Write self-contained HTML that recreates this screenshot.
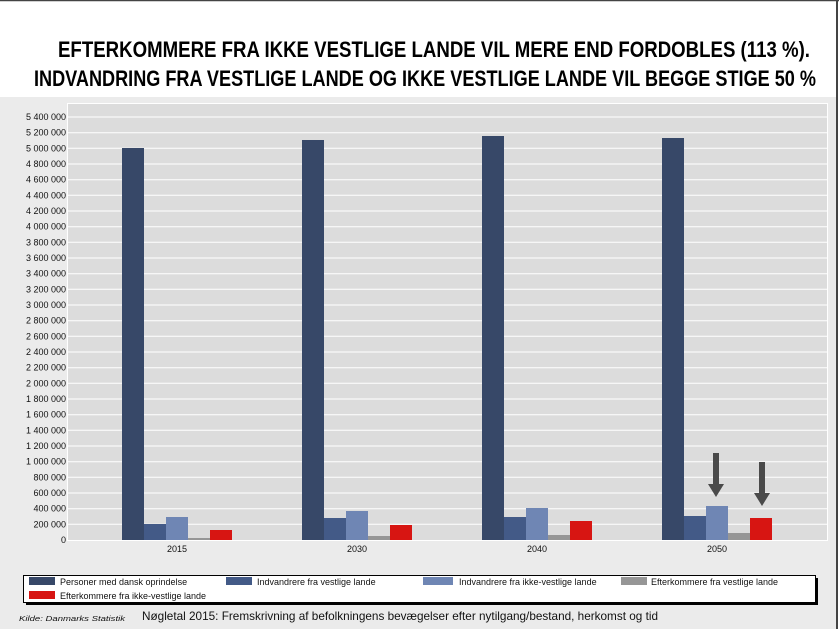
<!DOCTYPE html>
<html><head><meta charset="utf-8"><style>
html,body{margin:0;padding:0;background:#fff}
svg{display:block}
</style></head><body>
<svg width="839" height="629" viewBox="0 0 839 629" xmlns="http://www.w3.org/2000/svg" font-family="Liberation Sans, sans-serif">
<rect x="0" y="0" width="839" height="629" fill="#fff"/>
<rect x="0" y="97" width="836" height="532" fill="#ebebeb"/>
<line x1="0" y1="0.5" x2="839" y2="0.5" stroke="#444" stroke-width="1.5"/>
<line x1="837" y1="0" x2="837" y2="629" stroke="#444" stroke-width="2"/>
<text x="434" y="57" text-anchor="middle" font-family="Liberation Sans Narrow, Liberation Sans, sans-serif" font-weight="bold" font-size="22" textLength="752" lengthAdjust="spacingAndGlyphs">EFTERKOMMERE FRA IKKE VESTLIGE LANDE VIL MERE END FORDOBLES (113 %).</text>
<text x="425" y="86" text-anchor="middle" font-family="Liberation Sans Narrow, Liberation Sans, sans-serif" font-weight="bold" font-size="22" textLength="782" lengthAdjust="spacingAndGlyphs">INDVANDRING FRA VESTLIGE LANDE OG IKKE VESTLIGE LANDE VIL BEGGE STIGE 50 %</text>
<rect x="67.5" y="103.5" width="760" height="437" fill="#dcdcdc" stroke="#fff" stroke-width="1"/>
<g stroke="#fff" stroke-width="1">
<line x1="68" x2="827" y1="117" y2="117"/><line x1="68" x2="827" y1="132.7" y2="132.7"/><line x1="68" x2="827" y1="148.3" y2="148.3"/><line x1="68" x2="827" y1="164" y2="164"/><line x1="68" x2="827" y1="179.7" y2="179.7"/><line x1="68" x2="827" y1="195.3" y2="195.3"/><line x1="68" x2="827" y1="211" y2="211"/><line x1="68" x2="827" y1="226.7" y2="226.7"/><line x1="68" x2="827" y1="242.3" y2="242.3"/><line x1="68" x2="827" y1="258" y2="258"/><line x1="68" x2="827" y1="273.7" y2="273.7"/><line x1="68" x2="827" y1="289.3" y2="289.3"/><line x1="68" x2="827" y1="305" y2="305"/><line x1="68" x2="827" y1="320.7" y2="320.7"/><line x1="68" x2="827" y1="336.3" y2="336.3"/><line x1="68" x2="827" y1="352" y2="352"/><line x1="68" x2="827" y1="367.7" y2="367.7"/><line x1="68" x2="827" y1="383.3" y2="383.3"/><line x1="68" x2="827" y1="399" y2="399"/><line x1="68" x2="827" y1="414.7" y2="414.7"/><line x1="68" x2="827" y1="430.3" y2="430.3"/><line x1="68" x2="827" y1="446" y2="446"/><line x1="68" x2="827" y1="461.7" y2="461.7"/><line x1="68" x2="827" y1="477.3" y2="477.3"/><line x1="68" x2="827" y1="493" y2="493"/><line x1="68" x2="827" y1="508.7" y2="508.7"/><line x1="68" x2="827" y1="524.3" y2="524.3"/>
</g>
<g font-size="9" text-anchor="end" fill="#111">
<text x="66" y="120">5 400 000</text><text x="66" y="135.7">5 200 000</text><text x="66" y="151.3">5 000 000</text><text x="66" y="167">4 800 000</text><text x="66" y="182.7">4 600 000</text><text x="66" y="198.3">4 400 000</text><text x="66" y="214">4 200 000</text><text x="66" y="229.7">4 000 000</text><text x="66" y="245.3">3 800 000</text><text x="66" y="261">3 600 000</text><text x="66" y="276.7">3 400 000</text><text x="66" y="292.3">3 200 000</text><text x="66" y="308">3 000 000</text><text x="66" y="323.7">2 800 000</text><text x="66" y="339.3">2 600 000</text><text x="66" y="355">2 400 000</text><text x="66" y="370.7">2 200 000</text><text x="66" y="386.3">2 000 000</text><text x="66" y="402">1 800 000</text><text x="66" y="417.7">1 600 000</text><text x="66" y="433.3">1 400 000</text><text x="66" y="449">1 200 000</text><text x="66" y="464.7">1 000 000</text><text x="66" y="480.3">800 000</text><text x="66" y="496">600 000</text><text x="66" y="511.7">400 000</text><text x="66" y="527.3">200 000</text><text x="66" y="543">0</text>
</g>
<rect x="122" y="148" width="22" height="392" fill="#374868"/>
<rect x="144" y="524" width="22" height="16" fill="#435a87"/>
<rect x="166" y="517" width="22" height="23" fill="#6f86b4"/>
<rect x="188" y="538" width="22" height="2" fill="#969696"/>
<rect x="210" y="530" width="22" height="10" fill="#d71512"/>
<rect x="302" y="140" width="22" height="400" fill="#374868"/>
<rect x="324" y="518" width="22" height="22" fill="#435a87"/>
<rect x="346" y="511" width="22" height="29" fill="#6f86b4"/>
<rect x="368" y="536" width="22" height="4" fill="#969696"/>
<rect x="390" y="525" width="22" height="15" fill="#d71512"/>
<rect x="482" y="136" width="22" height="404" fill="#374868"/>
<rect x="504" y="517" width="22" height="23" fill="#435a87"/>
<rect x="526" y="508" width="22" height="32" fill="#6f86b4"/>
<rect x="548" y="535" width="22" height="5" fill="#969696"/>
<rect x="570" y="521" width="22" height="19" fill="#d71512"/>
<rect x="662" y="138" width="22" height="402" fill="#374868"/>
<rect x="684" y="516" width="22" height="24" fill="#435a87"/>
<rect x="706" y="506" width="22" height="34" fill="#6f86b4"/>
<rect x="728" y="533" width="22" height="7" fill="#969696"/>
<rect x="750" y="518" width="22" height="22" fill="#d71512"/>
<g font-size="9" text-anchor="middle" fill="#111">
<text x="177" y="552">2015</text><text x="357" y="552">2030</text><text x="537" y="552">2040</text><text x="717" y="552">2050</text>
</g>
<polygon points="713,453 719,453 719,484 724,484 716,497 708,484 713,484" fill="#4a4a4a"/>
<polygon points="759,462 765,462 765,493 770,493 762,506 754,493 759,493" fill="#4a4a4a"/>
<rect x="26" y="578" width="792" height="27" fill="#000"/>
<rect x="23.5" y="575.5" width="792" height="27" fill="#fff" stroke="#000" stroke-width="1"/>
<rect x="29" y="577" width="26" height="8" fill="#374868"/>
<rect x="29" y="591" width="26" height="8" fill="#d71512"/>
<rect x="226" y="577" width="26" height="8" fill="#435a87"/>
<rect x="423" y="577" width="30" height="8" fill="#6f86b4"/>
<rect x="621" y="577" width="26" height="8" fill="#969696"/>
<g font-size="9" fill="#111">
<text x="60" y="585">Personer med dansk oprindelse</text>
<text x="60" y="599">Efterkommere fra ikke-vestlige lande</text>
<text x="257" y="585">Indvandrere fra vestlige lande</text>
<text x="459" y="585">Indvandrere fra ikke-vestlige lande</text>
<text x="651" y="585">Efterkommere fra vestlige lande</text>
</g>
<text x="19" y="621" font-size="7.5" font-style="italic" fill="#111" textLength="106" lengthAdjust="spacingAndGlyphs">Kilde: Danmarks Statistik</text>
<text x="142" y="620" font-size="12" fill="#111" textLength="516" lengthAdjust="spacingAndGlyphs">Nøgletal 2015: Fremskrivning af befolkningens bevægelser efter nytilgang/bestand, herkomst og tid</text>
</svg>
</body></html>
